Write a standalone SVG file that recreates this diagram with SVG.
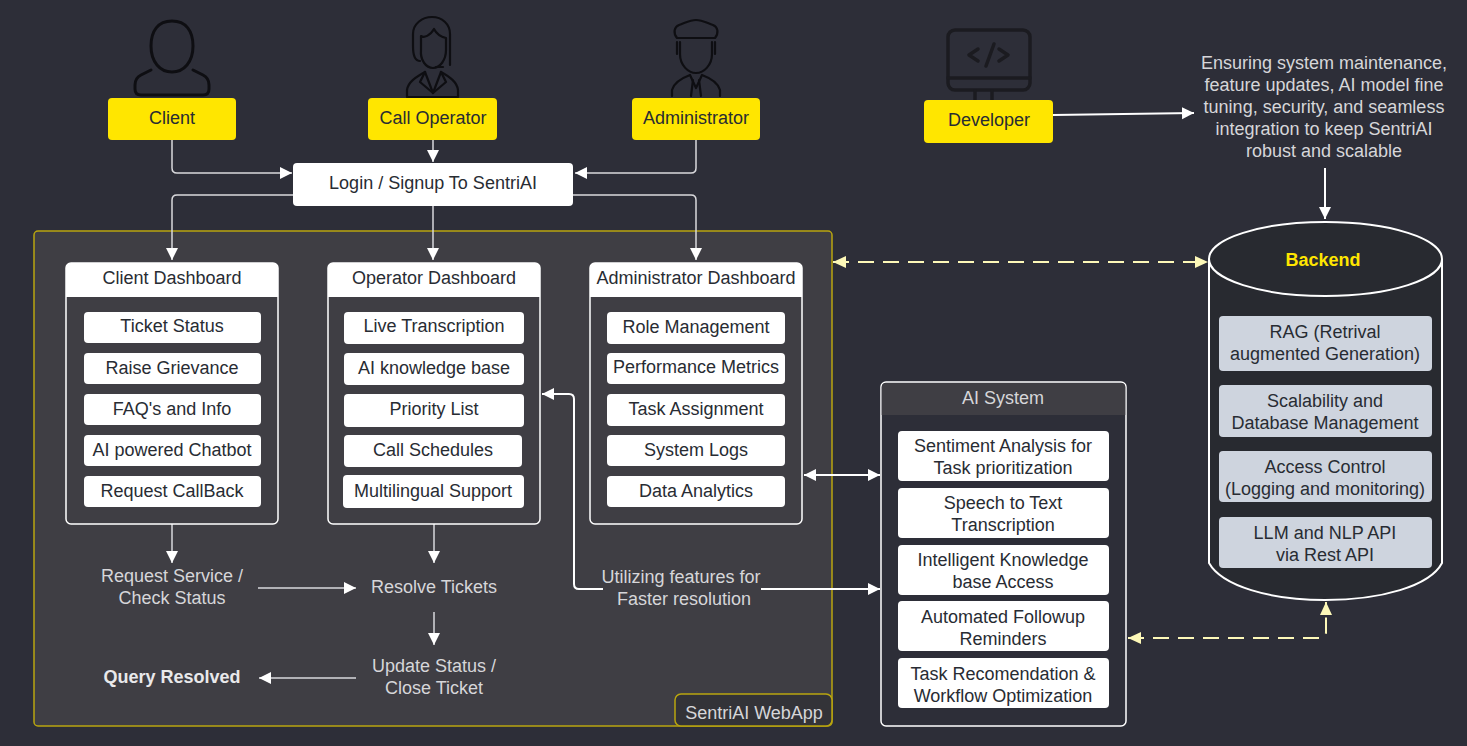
<svg xmlns="http://www.w3.org/2000/svg" width="1467" height="746" viewBox="0 0 1467 746">
<style>
text{font-family:"Liberation Sans",Arial,sans-serif;font-size:18px;text-anchor:middle;dominant-baseline:central;transform:translateY(1px)}
.dk{fill:#282c33}
.lt{fill:#d6d6d9}
.yb{fill:#ffe600;rx:4px}
.wb{fill:#fff;rx:4px}
.gb{fill:#ced4de;rx:4px}
.panel{fill:#3f3e44;stroke:#fff;stroke-width:1.5}
.head{fill:#fff}
.ic{fill:none;stroke:#0e0e12;stroke-width:3;stroke-linecap:round;stroke-linejoin:round}
.ic2{fill:none;stroke:#0e0e12;stroke-width:2.200;stroke-linecap:round;stroke-linejoin:round}
.dv{fill:none;stroke:#1b1b20;stroke-width:3.500;stroke-linecap:round;stroke-linejoin:round}
.c{fill:none;stroke:#d9d9dc;stroke-width:1.5}
.w{fill:none;stroke:#fff;stroke-width:2}
.d{fill:none;stroke:#fdf8b8;stroke-width:2;stroke-dasharray:16 9}
</style>
<defs>
<marker id="a" markerUnits="userSpaceOnUse" markerWidth="14" markerHeight="14" refX="12" refY="6" orient="auto-start-reverse"><path d="M0 0L12 6L0 12Z" fill="#fff"/></marker>
<marker id="y" markerUnits="userSpaceOnUse" markerWidth="14" markerHeight="14" refX="13" refY="6" orient="auto-start-reverse"><path d="M0 0L13 6L0 12Z" fill="#fdf8b8"/></marker>
</defs>
<rect width="1467" height="746" fill="#2d2e38"/>

<g id="webapp">
<rect x="34" y="231" width="798" height="495" rx="4" fill="#3f3e44" stroke="#b9a50f" stroke-width="1.5"/>
<rect x="675" y="694" width="157" height="32" rx="6" fill="#333338" stroke="#b9a50f" stroke-width="1.5"/>
<text x="754" y="712" class="lt">SentriAI WebApp</text>
</g>

<g id="connectors">
<path class="c" marker-end="url(#a)" d="M172 140V168Q172 173 177 173H292"/>
<path class="c" marker-end="url(#a)" d="M433 140V162"/>
<path class="c" marker-end="url(#a)" d="M696 140V168Q696 173 691 173H575"/>
<path class="c" marker-end="url(#a)" d="M293 195H177Q172 195 172 200V260"/>
<path class="c" marker-end="url(#a)" d="M433 206V260"/>
<path class="c" marker-end="url(#a)" d="M573 195H691Q696 195 696 200V260"/>
<path class="w" marker-end="url(#a)" d="M1053 115L1194 113"/>
<path class="w" marker-end="url(#a)" d="M1325 168V219"/>
<path class="d" marker-start="url(#y)" marker-end="url(#y)" d="M833 262H1208"/>
<path class="c" marker-end="url(#a)" d="M172 524V563"/>
<path class="c" marker-end="url(#a)" d="M434 524V563"/>
<path class="c" marker-end="url(#a)" d="M258 588H356"/>
<path class="c" marker-end="url(#a)" d="M434 612V645"/>
<path class="c" marker-end="url(#a)" d="M356 678H259"/>
<path class="w" marker-end="url(#a)" d="M603 589H579Q574 589 574 584V399Q574 394 569 394H542"/>
<path class="w" marker-end="url(#a)" d="M761 589H880"/>
<path class="w" marker-start="url(#a)" marker-end="url(#a)" d="M804 475H880"/>
<path class="d" marker-start="url(#y)" marker-end="url(#y)" d="M1128 638H1320Q1326 638 1326 632V602"/>
</g>

<g id="client-icon"><path class="ic" d="M172 21C158 21 151 31 151 46C151 62 160 72 172 72C184 72 193 62 193 46C193 31 186 21 172 21Z"/><path class="ic" d="M151 70L141 75Q135 78 135 85V89Q135 95 141 95H203Q209 95 209 89V85Q209 78 203 75L193 70"/></g>
<g id="operator-icon"><path class="ic2" d="M420 61C414 61 413 52 413 46V34C413 24 422 17 432 17C442 17 450 24 450 34V65"/><path class="ic2" d="M421 36C424 38 430 36 434 29C437 35 442 37 446 38V50C446 60 440 68 433 68C426 68 420 60 421 50Z"/><path class="ic2" d="M436 67H443"/><path class="ic2" d="M407 97V90C408 82 416 77 425 72L433 93L441 72C450 77 457 82 458 90V97M407 97H458"/><path class="ic2" d="M425 72L420 82L433 93L446 82L441 72"/></g>
<g id="admin-icon"><path class="ic2" d="M677 38C673 33 674 27 679 25C685 23 690 20 696 20C702 20 707 23 713 25C718 27 719 33 715 38Z"/><path class="ic2" d="M677 42V54M715 42V54M680 42V54C680 65 688 73 696 73C704 73 712 65 712 54V42"/><path class="ic2" d="M672 96V90C674 82 682 78 690 75L696 88L702 75C710 78 718 82 720 90V96"/><path class="ic2" d="M693 80L691 96M699 80L701 96"/></g>
<g id="developer-icon"><rect class="dv" x="948" y="30" width="82" height="60" rx="7"/><path class="dv" d="M948 78H1030M975 91V100M992 91V100"/><path class="dv" d="M978 49L969 55L978 61M986 66L994 44M999 49L1008 55L999 61"/></g>

<g id="client"><rect class="yb" x="108" y="98" width="128" height="42"/><text x="172" y="117" class="dk">Client</text></g>
<g id="call-operator"><rect class="yb" x="368" y="98" width="129" height="42"/><text x="433" y="117" class="dk">Call Operator</text></g>
<g id="administrator"><rect class="yb" x="632" y="98" width="128" height="42"/><text x="696" y="117" class="dk">Administrator</text></g>
<g id="developer"><rect class="yb" x="924" y="100" width="129" height="43"/><text x="989" y="119" class="dk">Developer</text></g>
<g id="login"><rect class="wb" x="293" y="163" width="280" height="43"/><text x="433" y="182" class="dk">Login / Signup To SentriAI</text></g>

<g id="maintenance-note" class="lt">
<text x="1324" y="62">Ensuring system maintenance,</text>
<text x="1324" y="84">feature updates, AI model fine</text>
<text x="1324" y="106">tuning, security, and seamless</text>
<text x="1324" y="128">integration to keep SentriAI</text>
<text x="1324" y="150">robust and scalable</text>
</g>

<g id="client-dashboard">
<rect class="panel" x="66" y="263" width="212" height="261" rx="5"/>
<path class="head" d="M66 297V268Q66 263 71 263H273Q278 263 278 268V297Z"/>
<text x="172" y="277" class="dk">Client Dashboard</text>
<rect class="wb" x="84" y="312" width="177" height="31"/><text x="172" y="325" class="dk">Ticket Status</text>
<rect class="wb" x="84" y="353" width="177" height="31"/><text x="172" y="367" class="dk">Raise Grievance</text>
<rect class="wb" x="84" y="394" width="177" height="31"/><text x="172" y="408" class="dk">FAQ's and Info</text>
<rect class="wb" x="84" y="435" width="177" height="31"/><text x="172" y="449" class="dk">AI powered Chatbot</text>
<rect class="wb" x="84" y="476" width="177" height="31"/><text x="172" y="490" class="dk">Request CallBack</text>
</g>
<g id="operator-dashboard">
<rect class="panel" x="328" y="263" width="212" height="261" rx="5"/>
<path class="head" d="M328 297V268Q328 263 333 263H535Q540 263 540 268V297Z"/>
<text x="434" y="277" class="dk">Operator Dashboard</text>
<rect class="wb" x="344" y="312" width="180" height="32"/><text x="434" y="325" class="dk">Live Transcription</text>
<rect class="wb" x="344" y="353" width="180" height="32"/><text x="434" y="367" class="dk">AI knowledge base</text>
<rect class="wb" x="344" y="394" width="180" height="33"/><text x="434" y="408" class="dk">Priority List</text>
<rect class="wb" x="344" y="435" width="178" height="32"/><text x="433" y="449" class="dk">Call Schedules</text>
<rect class="wb" x="343" y="475" width="181" height="33"/><text x="433" y="490" class="dk">Multilingual Support</text>
</g>
<g id="admin-dashboard">
<rect class="panel" x="590" y="263" width="212" height="261" rx="5"/>
<path class="head" d="M590 297V268Q590 263 595 263H797Q802 263 802 268V297Z"/>
<text x="696" y="277" class="dk">Administrator Dashboard</text>
<rect class="wb" x="607" y="312" width="178" height="32"/><text x="696" y="326" class="dk">Role Management</text>
<rect class="wb" x="607" y="353" width="178" height="31"/><text x="696" y="366" class="dk">Performance Metrics</text>
<rect class="wb" x="607" y="394" width="178" height="32"/><text x="696" y="408" class="dk">Task Assignment</text>
<rect class="wb" x="607" y="435" width="178" height="31"/><text x="696" y="449" class="dk">System Logs</text>
<rect class="wb" x="607" y="476" width="178" height="31"/><text x="696" y="490" class="dk">Data Analytics</text>
</g>

<g id="flow-request" class="lt"><text x="172" y="575">Request Service /</text><text x="172" y="597">Check Status</text></g>
<g id="flow-resolve" class="lt"><text x="434" y="586">Resolve Tickets</text></g>
<g id="flow-update" class="lt"><text x="434" y="665">Update Status /</text><text x="434" y="687">Close Ticket</text></g>
<g id="flow-resolved"><text x="172" y="676" font-weight="700" style="fill:#e9e9eb">Query Resolved</text></g>
<g id="flow-features" class="lt"><text x="681" y="576">Utilizing features for</text><text x="684" y="598">Faster resolution</text></g>

<g id="ai-system">
<rect x="881" y="382" width="245" height="344" rx="5" fill="#2d2e38" stroke="#fff" stroke-width="1.5"/>
<path d="M881.700 415V387Q881.700 383 886 383H1121Q1125.300 383 1125.300 387V415Z" fill="#3f3e44"/>
<text x="1003" y="397" class="lt">AI System</text>
<rect class="wb" x="898" y="431" width="211" height="50"/><text x="1003" y="445" class="dk">Sentiment Analysis for</text><text x="1003" y="467" class="dk">Task prioritization</text>
<rect class="wb" x="898" y="488" width="211" height="50"/><text x="1003" y="502" class="dk">Speech to Text</text><text x="1003" y="524" class="dk">Transcription</text>
<rect class="wb" x="898" y="545" width="211" height="50"/><text x="1003" y="559" class="dk">Intelligent Knowledge</text><text x="1003" y="581" class="dk">base Access</text>
<rect class="wb" x="898" y="601" width="211" height="50"/><text x="1003" y="616" class="dk">Automated Followup</text><text x="1003" y="638" class="dk">Reminders</text>
<rect class="wb" x="898" y="658" width="211" height="50"/><text x="1003" y="673" class="dk">Task Recomendation &amp;</text><text x="1003" y="695" class="dk">Workflow Optimization</text>
</g>

<g id="backend">
<path d="M1209 259V563C1222 586 1270 600 1325 600C1381 600 1430 586 1442 563V259" fill="#282a30" stroke="#fff" stroke-width="2"/>
<ellipse cx="1325.500" cy="259" rx="116.500" ry="37" fill="#282a30" stroke="#fff" stroke-width="2"/>
<text x="1323" y="259" font-weight="700" style="fill:#ffe600">Backend</text>
<rect class="gb" x="1219" y="316" width="213" height="55"/><text x="1325" y="331" class="dk">RAG (Retrival</text><text x="1325" y="353" class="dk">augmented Generation)</text>
<rect class="gb" x="1219" y="385" width="213" height="52"/><text x="1325" y="400" class="dk">Scalability and</text><text x="1325" y="422" class="dk">Database Management</text>
<rect class="gb" x="1219" y="451" width="213" height="51"/><text x="1325" y="466" class="dk">Access Control</text><text x="1325" y="488" class="dk">(Logging and monitoring)</text>
<rect class="gb" x="1219" y="517" width="213" height="51"/><text x="1325" y="532" class="dk">LLM and NLP API</text><text x="1325" y="554" class="dk">via Rest API</text>
</g>
</svg>
